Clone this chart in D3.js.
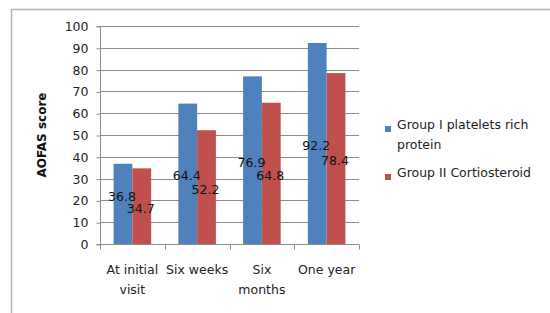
<!DOCTYPE html>
<html><head><meta charset="utf-8">
<script src="https://cdn.jsdelivr.net/npm/d3@7"></script>
<style>body{margin:0;background:#fff}svg{display:block}text{font-family:"DejaVu Sans",sans-serif}</style>
</head><body><svg id="c" width="550" height="313"></svg>
<script>
const categories = [["At initial","visit"],["Six weeks"],["Six","months"],["One year"]];
const seriesNames = ["Group I platelets rich protein","Group II Cortiosteroid"];
const group1 = [36.8, 64.4, 76.9, 92.2];
const group2 = [34.7, 52.2, 64.8, 78.4];
const yTicks = [0,10,20,30,40,50,60,70,80,90,100];
const colors = ["#4F81BD","#C0504D"];

const svg = d3.select("#c");
const L=100,R=359,T=26,B=244;
// outer frame
svg.append("path").attr("d","M11.5,313 L11.5,9.5 L550,9.5").attr("fill","none").attr("stroke","#b4b4b4").attr("stroke-width",1.5);

const y = d3.scaleLinear().domain([0,100]).range([B,T]);
const catIdx = d3.range(categories.length);
const x = d3.scaleBand().domain(catIdx).range([L,R]).padding(0);
const bw = x.bandwidth();
const xs = d3.scaleBand().domain([0,1]).range([bw*0.21, bw*0.79]).padding(0);

// gridlines
svg.append("g").selectAll("line").data(yTicks).join("line")
  .attr("x1",L).attr("x2",R).attr("y1",d=>Math.round(y(d))+0.5).attr("y2",d=>Math.round(y(d))+0.5)
  .attr("stroke","#8c8c8c").attr("stroke-width",1);

// y axis
const ya = svg.append("g").attr("transform",`translate(${L+0.5},0.5)`)
  .call(d3.axisLeft(y).tickValues(yTicks).tickSize(4).tickPadding(8).tickFormat(d3.format("d")));
ya.selectAll("path,line").attr("stroke","#8c8c8c");
ya.selectAll("text").attr("font-size","12.5px").attr("font-family","DejaVu Sans").attr("fill","#222");
ya.select(".domain").attr("d",`M-4,${B}H0V${T}H-4`);

// bars
const series=[group1,group2];
const bars = svg.append("g");
series.forEach((vals,s)=>{
  bars.selectAll(".b"+s).data(vals).join("rect")
    .attr("x",(d,i)=>x(i)+xs(s)).attr("width",xs.bandwidth())
    .attr("y",d=>y(d)).attr("height",d=>B-y(d)).attr("fill",colors[s]);
});

// x axis
const xa = svg.append("g").attr("transform",`translate(0,${B+0.5})`);
xa.append("line").attr("x1",L).attr("x2",R).attr("stroke","#8c8c8c");
xa.selectAll(".t").data(d3.range(categories.length+1)).join("line")
  .attr("x1",i=>Math.round(i<categories.length?x(i):R)+0.5).attr("x2",i=>Math.round(i<categories.length?x(i):R)+0.5)
  .attr("y1",0).attr("y2",5).attr("stroke","#8c8c8c");
categories.forEach((lines,i)=>{
  const t = svg.append("text").attr("x",x(i)+bw/2).attr("y",274).attr("text-anchor","middle")
    .attr("font-size","12.5px").attr("fill","#222");
  lines.forEach((ln,k)=>t.append("tspan").attr("x",x(i)+bw/2).attr("dy",k?20:0).text(ln));
});

// data labels
catIdx.forEach(i=>{
  let yb = y(group1[i]/2)+2, yr = y(group2[i]/2)+2;
  if (Math.abs(yb-yr)<11.5){ yb = yr-11.5; }
  [[group1[i],yb,0],[group2[i],yr,1]].forEach(([v,yy,s])=>{
    svg.append("text").attr("x",x(i)+xs(s)+xs.bandwidth()/2-1).attr("y",yy).attr("dy","0.36em")
      .attr("text-anchor","middle").attr("font-size","12.5px").attr("fill","#111").text(v.toFixed(1));
  });
});

// y title
svg.append("text").attr("transform",`translate(46,${(T+B)/2}) rotate(-90)`).attr("text-anchor","middle")
  .attr("font-size","12px").attr("font-weight","bold").attr("fill","#111").text("AOFAS score");

// legend
const leg = svg.append("g");
const legLines = [["Group I platelets rich","protein"],["Group II Cortiosteroid"]];
const legY=[129,177];
legLines.forEach((lines,s)=>{
  leg.append("rect").attr("x",385).attr("y",legY[s]-3).attr("width",6).attr("height",6).attr("fill",colors[s]);
  const t=leg.append("text").attr("x",397).attr("y",legY[s]).attr("dy","0.36em").attr("font-size","12.5px").attr("fill","#222");
  lines.forEach((ln,k)=>t.append("tspan").attr("x",397).attr("dy",k?20:0).text(ln));
});
</script></body></html>
